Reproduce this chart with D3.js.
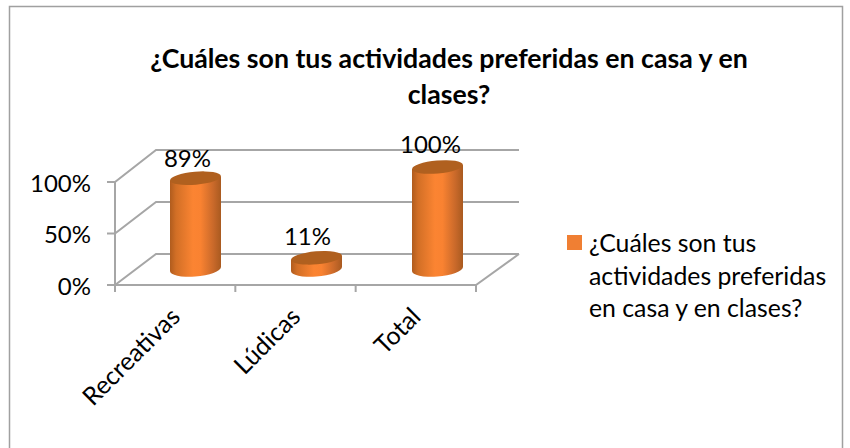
<!DOCTYPE html>
<html><head><meta charset="utf-8"><script src="https://cdn.jsdelivr.net/npm/d3@7"></script>
<style>html,body{margin:0;padding:0;background:#fff}svg{display:block}text{font-family:Lato,"Open Sans",sans-serif;fill:#000}</style></head>
<body><svg id="c" width="850" height="448"></svg>
<script>
const categories = ["Recreativas", "Lúdicas", "Total"];
const values = [89, 11, 100];
const valueLabels = ["89%", "11%", "100%"];
const yTicks = [0, 50, 100];
const titleLines = ["¿Cuáles son tus actividades preferidas en casa y en", "clases?"];
const legendLines = ["¿Cuáles son tus", "actividades preferidas", "en casa y en clases?"];

const svg = d3.select("#c");
const defs = svg.append("defs");
const grad = defs.append("linearGradient").attr("id","cyl");
[[0,"#b05c1e"],[0.12,"#d26f26"],[0.45,"#fb8432"],[0.6,"#f98231"],[0.85,"#c9692a"],[1,"#a95a20"]]
  .forEach(([o,c])=>grad.append("stop").attr("offset",o).attr("stop-color",c));

svg.append("path").attr("d","M9.5,448V6.5H842.5V448").attr("fill","none").attr("stroke","#a0a0a0").attr("stroke-width",1.5);

const front = d3.scaleLinear().domain([0,100]).range([285,182]);
const back = d3.scaleLinear().domain([0,100]).range([254,150]);
const mid = d3.scaleLinear().domain([0,100]).range([269,167]);
const xFront = d3.scaleBand().domain(categories).range([115,476]);
const xBar = d3.scalePoint().domain(categories).range([195.5,437.5]);
const backX = 156, backEnd = 519;
const grid = "#a6a6a6";
const g = svg.append("g").attr("fill","none").attr("stroke",grid).attr("stroke-width",2);
yTicks.forEach(t=>{
  g.append("path").attr("d",`M107,${front(t)}H115L${backX},${back(t)}H${backEnd}`);
});
g.append("path").attr("d",`M115,${front(100)}V292`);
g.append("path").attr("d",`M115,${front(0)}H476L${backEnd},${back(0)}`);
xFront.domain().forEach(c=>g.append("path").attr("d",`M${xFront(c)+xFront.bandwidth()},285v7`));

svg.append("g").selectAll("text").data(yTicks).join("text")
  .attr("x",91).attr("y",d=>front(d)+1).attr("dy","0.36em").attr("text-anchor","end")
  .attr("font-size",24).text(d=>d+"%");

const rx=25.5, ry=7.5, tilt=-5;
const labelDx=[-8,-9,-7];
const bars = svg.append("g").selectAll("g").data(categories).join("g");
bars.each(function(c,i){
  const s=d3.select(this), cx=xBar(c), top=mid(values[i]), base=mid(0);
  s.append("path").attr("fill","url(#cyl)")
   .attr("d",`M${cx-rx},${top+2}L${cx-rx},${base+2}A${rx},${ry} ${tilt} 0 0 ${cx+rx},${base-2}L${cx+rx},${top-2}Z`);
  s.append("ellipse").attr("cx",cx).attr("cy",top).attr("rx",rx).attr("ry",ry-1)
   .attr("transform",`rotate(${tilt} ${cx} ${top})`).attr("fill","#b0601f");
  s.append("text").attr("x",cx+labelDx[i]).attr("y",top-11-(i==2?3:0)+(i==1?-2:0)).attr("text-anchor","middle").attr("font-size",24).text(valueLabels[i]);
});

categories.forEach(c=>{
  const x=xFront(c)+xFront.bandwidth()/2-6;
  svg.append("text").attr("transform",`translate(${x},306) rotate(-45)`).attr("text-anchor","end").attr("dy","0.7em")
    .attr("font-size",25).text(c);
});

svg.append("g").selectAll("text").data(titleLines).join("text")
  .attr("x",449).attr("y",(d,i)=>68+i*36).attr("text-anchor","middle").attr("font-weight",700).attr("font-size",26.7).text(d=>d);

svg.append("rect").attr("x",567).attr("y",235).attr("width",15).attr("height",15).attr("fill","#f07f33");
svg.append("g").selectAll("text").data(legendLines).join("text")
  .attr("x",589).attr("y",(d,i)=>252+i*32.5).attr("font-size",24.8).text(d=>d);
</script></body></html>
